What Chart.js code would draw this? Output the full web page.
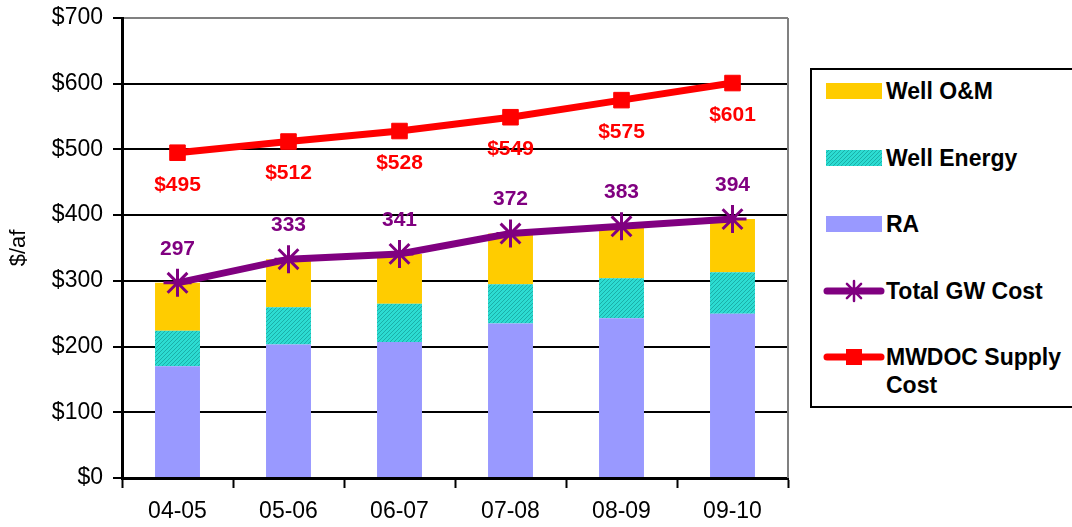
<!DOCTYPE html>
<html>
<head>
<meta charset="utf-8">
<script src="https://cdn.jsdelivr.net/npm/chart.js@4.4.1/dist/chart.umd.min.js"></script>
<style>
  html, body { margin:0; padding:0; background:#fff; overflow:hidden; }
  #wrap { position:relative; width:1072px; height:527px; }
  #legend { position:absolute; left:810px; top:68px; width:280px; height:340px; border:2px solid #000; box-sizing:border-box; background:#fff; }
  .item { position:absolute; left:0; font-family:'Liberation Sans', Arial, sans-serif; font-weight:bold; font-size:23px; color:#000; }
  .item .sw { position:absolute; left:11px; }
  .item .tx { position:absolute; left:74px; width:190px; line-height:28px; white-space:normal; }
</style>
</head>
<body>
<div id="wrap">
  <canvas id="c" width="1072" height="527"></canvas>
  <div id="legend"></div>
</div>
<script>
const categories = ['04-05', '05-06', '06-07', '07-08', '08-09', '09-10'];
const raValues = [170, 203, 207, 235, 243, 250];
const energyValues = [54, 57, 58, 60, 61, 63];
const omValues = [73, 73, 76, 77, 79, 81];
const totalGW = [297, 333, 341, 372, 383, 394];
const mwdocCost = [495, 512, 528, 549, 575, 601];
const yTickValues = [0, 100, 200, 300, 400, 500, 600, 700];

const FONT = "'Liberation Sans', Arial, sans-serif";

// hatched teal pattern for Well Energy
function makePattern() {
  const p = document.createElement('canvas');
  p.width = 4; p.height = 4;
  const g = p.getContext('2d');
  g.fillStyle = '#2CDCD2';
  g.fillRect(0, 0, 4, 4);
  g.fillStyle = '#1BAFA8';
  for (let i = 0; i < 4; i++) { g.fillRect(i, 3 - i, 1, 1); }
  return g.createPattern(p, 'repeat');
}
const energyPattern = makePattern();

const labelPlugin = {
  id: 'pointLabels',
  afterDatasetsDraw(chart) {
    const ctx = chart.ctx;
    ctx.save();
    ctx.font = 'bold 21px ' + FONT;
    ctx.textAlign = 'center';
    ctx.textBaseline = 'middle';
    chart.data.datasets.forEach((ds, i) => {
      if (!ds.labelFmt) return;
      const meta = chart.getDatasetMeta(i);
      meta.data.forEach((pt, j) => {
        ctx.fillStyle = ds.labelColor;
        ctx.fillText(ds.labelFmt(ds.data[j]), pt.x, pt.y + ds.labelOffset);
      });
    });
    ctx.restore();
  }
};

const borderPlugin = {
  id: 'rightBorder',
  beforeDatasetsDraw(chart) {
    const { ctx, chartArea } = chart;
    ctx.save();
    ctx.strokeStyle = '#808080';
    ctx.lineWidth = 2;
    ctx.beginPath();
    ctx.moveTo(chartArea.right, chartArea.top);
    ctx.lineTo(chartArea.right, chartArea.bottom);
    ctx.stroke();
    ctx.restore();
  }
};

const chart = new Chart(document.getElementById('c'), {
  data: {
    labels: categories,
    datasets: [
      { type: 'bar', label: 'RA', data: raValues, backgroundColor: '#9999FF', order: 1, stack: 's',
        barPercentage: 0.405, categoryPercentage: 1 },
      { type: 'bar', label: 'Well Energy', data: energyValues, backgroundColor: energyPattern, order: 1, stack: 's',
        barPercentage: 0.405, categoryPercentage: 1 },
      { type: 'bar', label: 'Well O&M', data: omValues, backgroundColor: '#FFCC00', order: 1, stack: 's',
        barPercentage: 0.405, categoryPercentage: 1 },
      { type: 'line', label: 'Total GW Cost', data: totalGW, borderColor: '#800080', backgroundColor: '#800080',
        borderWidth: 7, pointStyle: 'star', pointRadius: 14, pointBorderWidth: 3, pointBorderColor: '#800080',
        order: 0, stack: 'l1', labelFmt: v => String(v), labelColor: '#800080', labelOffset: -34 },
      { type: 'line', label: 'MWDOC Supply Cost', data: mwdocCost, borderColor: '#FF0000', backgroundColor: '#FF0000',
        borderWidth: 7, pointStyle: 'rect', pointRadius: 11, pointBorderWidth: 1, pointBorderColor: '#FF0000',
        order: 0, stack: 'l2', labelFmt: v => '$' + v, labelColor: '#FF0000', labelOffset: 32 }
    ]
  },
  options: {
    responsive: false,
    animation: false,
    layout: { padding: { left: 0, right: 284, top: 18, bottom: 0 } },
    plugins: { legend: { display: false }, tooltip: { enabled: false } },
    scales: {
      x: {
        stacked: true,
        grid: { display: true, drawOnChartArea: false, drawTicks: true, offset: true, tickLength: 10, tickColor: '#000', tickWidth: 2 },
        border: { color: '#000', width: 3 },
        ticks: { color: '#000', font: { family: FONT, size: 23 }, padding: 10, maxRotation: 0 },
        afterFit(s) { s.height = 49; s.paddingLeft = 0; s.paddingRight = 0; }
      },
      y: {
        stacked: true,
        min: 0, max: 700,
        afterBuildTicks(s) { s.ticks = yTickValues.map(v => ({ value: v })); },
        grid: {
          color: c => (c.tick && c.tick.value === 700 ? '#808080' : '#000'),
          lineWidth: 2, tickLength: 9, tickColor: '#000', tickWidth: 2
        },
        border: { color: '#000', width: 3 },
        ticks: { color: '#000', font: { family: FONT, size: 23 }, padding: 10, callback: v => '$' + v },
        title: { display: true, text: '$/af', color: '#000', font: { family: FONT, size: 22 }, padding: { top: 6, bottom: 0 } },
        afterFit(s) { s.width = 122; s.paddingTop = 0; s.paddingBottom = 0; }
      }
    }
  },
  plugins: [labelPlugin, borderPlugin]
});

// HTML legend built from datasets
(function buildLegend() {
  const order = [2, 1, 0, 3, 4];
  const leg = document.getElementById('legend');
  order.forEach((di, k) => {
    const ds = chart.data.datasets[di];
    const cy = 21 + k * 66.5; // center of first text line, relative to legend box
    const item = document.createElement('div');
    item.className = 'item';
    item.style.top = (cy - 14) + 'px';
    const sw = document.createElement('canvas');
    sw.className = 'sw';
    sw.width = 62; sw.height = 28;
    sw.style.top = '0px';
    const g = sw.getContext('2d');
    if (ds.type === 'bar') {
      g.fillStyle = ds.backgroundColor;
      g.fillRect(3, 6, 56, 16);
    } else {
      g.strokeStyle = ds.borderColor;
      g.lineWidth = 7; g.lineCap = 'round';
      g.beginPath(); g.moveTo(4, 14); g.lineTo(58, 14); g.stroke();
      if (ds.pointStyle === 'star') {
        g.lineWidth = 2.5;
        const r = 10;
        g.beginPath();
        g.moveTo(31 - r, 14); g.lineTo(31 + r, 14);
        g.moveTo(31, 14 - r); g.lineTo(31, 14 + r);
        const d = r * Math.SQRT1_2;
        g.moveTo(31 - d, 14 - d); g.lineTo(31 + d, 14 + d);
        g.moveTo(31 - d, 14 + d); g.lineTo(31 + d, 14 - d);
        g.stroke();
      } else {
        g.fillStyle = ds.borderColor;
        g.fillRect(23, 6, 16, 16);
      }
    }
    const tx = document.createElement('div');
    tx.className = 'tx';
    tx.textContent = ds.label;
    item.appendChild(sw);
    item.appendChild(tx);
    leg.appendChild(item);
  });
})();
</script>
</body>
</html>
